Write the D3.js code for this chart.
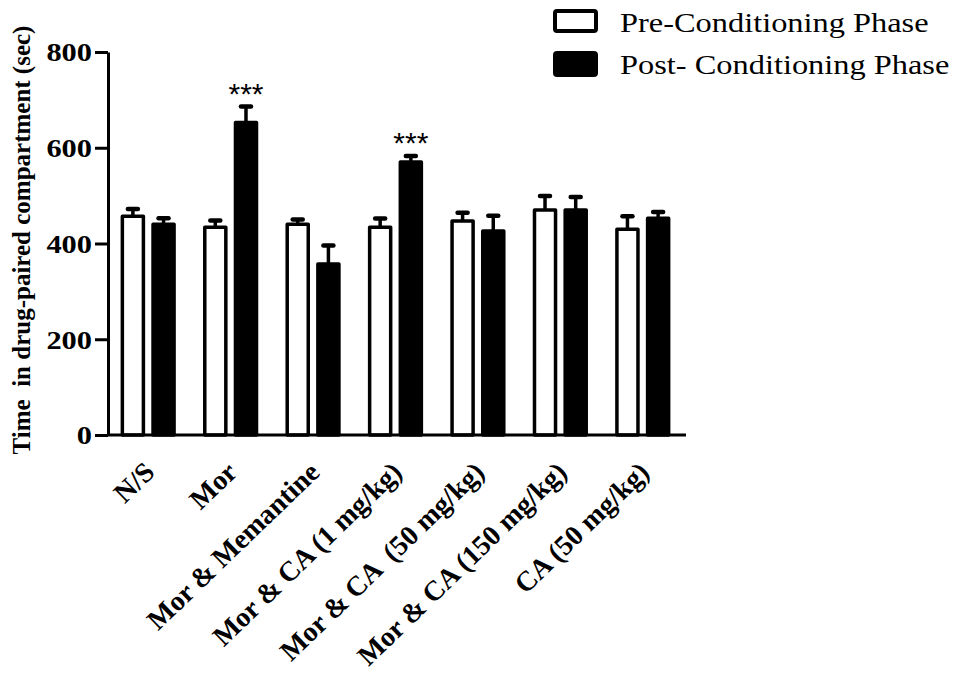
<!DOCTYPE html>
<html>
<head>
<meta charset="utf-8">
<script src="https://cdn.jsdelivr.net/npm/d3@7"></script>
<style>
  body { margin: 0; background: #fff; }
  svg { display: block; font-family: "Liberation Serif", "Times New Roman", serif; }
</style>
</head>
<body>
<div id="chart"></div>
<script>
// groups on the x axis
const categories = [
  "N/S",
  "Mor",
  "Mor & Memantine",
  "Mor & CA (1 mg/kg)",
  "Mor & CA  (50 mg/kg)",
  "Mor & CA (150 mg/kg)",
  "CA (50 mg/kg)"
];
const seriesNames = ["Pre-Conditioning Phase", "Post- Conditioning Phase"];

// mean time (sec) and SEM
const preMeans = [457, 434, 440, 434, 447, 470, 430];
const preErr = [15, 14, 10, 18, 17, 29, 27];
const postMeans = [440, 653, 357, 570, 426, 470, 453];
const postErr = [13, 33, 39, 13, 32, 27, 13];
const postSignif = ["", "***", "", "***", "", "", ""];

const yTicks = [0, 200, 400, 600, 800];

const width = 961, height = 681;
const stroke = 3.5;
// the original figure's horizontal lettering is a little wider than tall
const stretch = 1.17;

const data = categories.map((c, i) => ({
  cat: c,
  values: [
    { key: "pre", mean: preMeans[i], err: preErr[i], sig: "" },
    { key: "post", mean: postMeans[i], err: postErr[i], sig: postSignif[i] }
  ]
}));

const svg = d3.select("#chart")
  .append("svg")
  .attr("width", width)
  .attr("height", height);

svg.append("rect").attr("width", width).attr("height", height).attr("fill", "#fff");

const x0 = d3.scaleBand()
  .domain(categories)
  .range([107, 684])
  .paddingInner(0.33)
  .paddingOuter(0.165);

const x1 = d3.scaleBand()
  .domain(["pre", "post"])
  .range([0, x0.bandwidth()])
  .paddingInner(0.2);

const y = d3.scaleLinear()
  .domain([0, 800])
  .range([435, 52]);

// bars
const groups = svg.append("g").attr("class", "bars")
  .selectAll("g")
  .data(data)
  .join("g")
  .attr("transform", (d) => `translate(${x0(d.cat)},0)`);

groups.selectAll("rect")
  .data((d) => d.values)
  .join("rect")
  .attr("x", (d) => x1(d.key) + stroke / 2)
  .attr("y", (d) => y(d.mean))
  .attr("width", x1.bandwidth() - stroke)
  .attr("height", (d) => y(0) - y(d.mean))
  .attr("fill", (d) => d.key === "pre" ? "#fff" : "#000")
  .attr("stroke", "#000")
  .attr("stroke-width", stroke)
  .attr("stroke-linejoin", "round");

// error bars (upper half only)
const err = groups.selectAll("g.err")
  .data((d) => d.values)
  .join("g")
  .attr("class", "err")
  .attr("transform", (d) => `translate(${x1(d.key) + x1.bandwidth() / 2},0)`);

err.append("line")
  .attr("y1", (d) => y(d.mean))
  .attr("y2", (d) => y(d.mean + d.err))
  .attr("stroke", "#000")
  .attr("stroke-width", 3.5);

err.append("line")
  .attr("x1", -5).attr("x2", 5)
  .attr("y1", (d) => y(d.mean + d.err))
  .attr("y2", (d) => y(d.mean + d.err))
  .attr("stroke", "#000")
  .attr("stroke-width", 4.5)
  .attr("stroke-linecap", "round");

err.filter((d) => d.sig)
  .append("text")
  .attr("y", (d) => y(d.mean + d.err) - 3)
  .attr("text-anchor", "middle")
  .attr("font-family", "'Liberation Sans', Arial, sans-serif")
  .attr("font-size", "30px")
  .text((d) => d.sig);

// y axis
const yAxisG = svg.append("g")
  .attr("transform", "translate(108,0)")
  .call(d3.axisLeft(y).tickValues(yTicks).tickSize(13).tickSizeOuter(0).tickPadding(3));
yAxisG.select(".domain").attr("stroke-width", 3);
yAxisG.selectAll(".tick line").attr("stroke-width", 3);
yAxisG.selectAll(".tick text")
  .attr("font-family", "'Liberation Serif', 'Times New Roman', serif")
  .attr("font-size", "26px")
  .attr("font-weight", "bold")
  .attr("fill", "#000")
  .attr("x", 0)
  .attr("dy", "0.34em")
  .attr("transform", `translate(-16,0) scale(${stretch},1)`);

// x axis
const xAxisG = svg.append("g")
  .attr("transform", `translate(0,${y(0)})`)
  .call(d3.axisBottom(x0).tickSize(0).tickSizeOuter(0));
xAxisG.select(".domain")
  .attr("d", "M107,0H686")
  .attr("stroke-width", 3);
xAxisG.selectAll(".tick text")
  .attr("font-family", "'Liberation Serif', 'Times New Roman', serif")
  .attr("font-size", "28px")
  .attr("font-weight", "bold")
  .attr("fill", "#000")
  .attr("text-anchor", "end")
  .attr("x", 0).attr("y", 0).attr("dy", null)
  .style("white-space", "pre")
  .attr("transform", "translate(8,39) rotate(-44)");

// y axis title
svg.append("text")
  .attr("transform", "translate(30,240) rotate(-90)")
  .attr("text-anchor", "middle")
  .attr("font-size", "25px")
  .attr("font-weight", "bold")
  .style("white-space", "pre")
  .text("Time  in drug-paired compartment (sec)");

// legend
const legend = svg.append("g").attr("class", "legend")
  .selectAll("g")
  .data(seriesNames)
  .join("g")
  .attr("transform", (d, i) => `translate(555,${11 + i * 42})`);

legend.append("rect")
  .attr("width", 41).attr("height", (d, i) => i === 0 ? 20 : 22)
  .attr("rx", 2)
  .attr("fill", (d, i) => i === 0 ? "#fff" : "#000")
  .attr("stroke", "#000")
  .attr("stroke-width", 4);

legend.append("text")
  .attr("transform", "translate(65,21) scale(1.2,1)")
  .attr("font-size", "27px")
  .text((d) => d);
</script>
</body>
</html>
